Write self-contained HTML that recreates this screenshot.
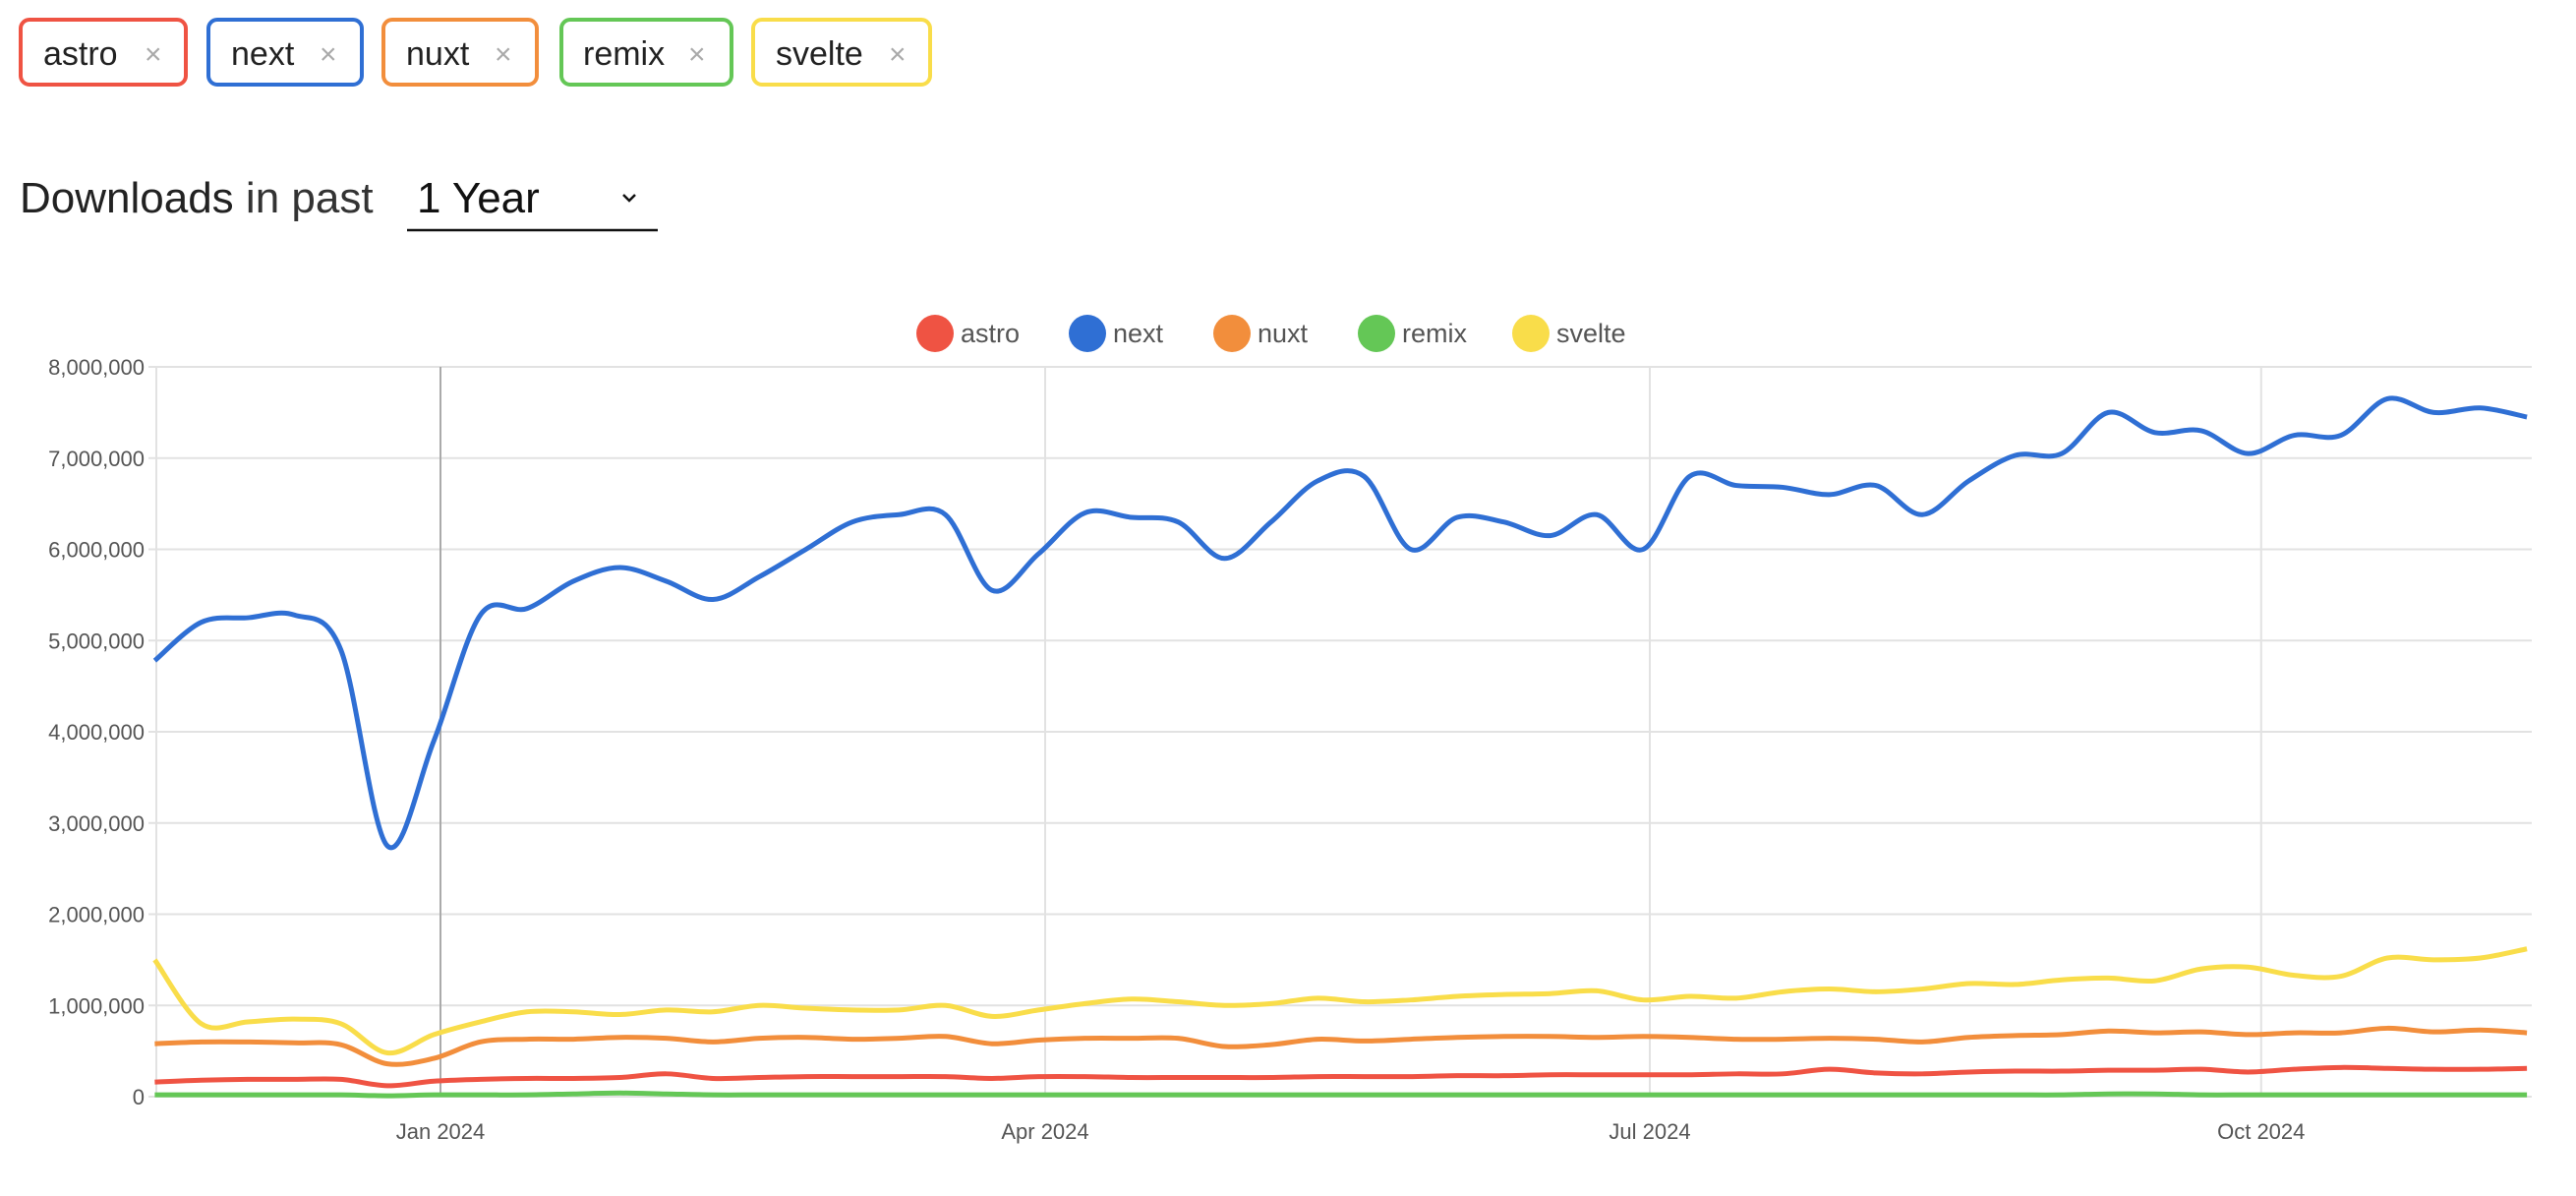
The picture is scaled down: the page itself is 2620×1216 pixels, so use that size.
<!DOCTYPE html>
<html><head><meta charset="utf-8"><style>
body{margin:0;background:#fff;font-family:"Liberation Sans",Arial,sans-serif;}
svg{display:block}
</style></head><body>
<svg id="page" width="2620" height="1216" viewBox="0 0 2620 1216">
<g font-size="34" fill="#222">
 <g><rect x="21" y="20" width="168" height="66" rx="9" fill="none" stroke="#ef5343" stroke-width="4"/><text x="44" y="66">astro</text><text x="147" y="65" fill="#aaa" font-size="30">×</text></g>
 <g><rect x="212" y="20" width="156" height="66" rx="9" fill="none" stroke="#2f6fd4" stroke-width="4"/><text x="235" y="66">next</text><text x="325" y="65" fill="#aaa" font-size="30">×</text></g>
 <g><rect x="390" y="20" width="156" height="66" rx="9" fill="none" stroke="#f28e3c" stroke-width="4"/><text x="413" y="66">nuxt</text><text x="503" y="65" fill="#aaa" font-size="30">×</text></g>
 <g><rect x="571" y="20" width="173" height="66" rx="9" fill="none" stroke="#64c756" stroke-width="4"/><text x="593" y="66">remix</text><text x="700" y="65" fill="#aaa" font-size="30">×</text></g>
 <g><rect x="766" y="20" width="180" height="66" rx="9" fill="none" stroke="#f9dd4a" stroke-width="4"/><text x="789" y="66">svelte</text><text x="904" y="65" fill="#aaa" font-size="30">×</text></g>
</g>
<text x="20" y="216" font-size="44" fill="#222"><tspan font-weight="normal">Downloads</tspan><tspan fill="#333"> in past</tspan></text>
<g>
 <text x="424" y="216" font-size="44" fill="#111">1 Year</text>
 <path d="M634 198 l6 6 l6 -6" fill="none" stroke="#111" stroke-width="2.5"/>
 <line x1="414" y1="234" x2="669" y2="234" stroke="#111" stroke-width="2.5"/>
</g>
<g id="legend" font-size="27" fill="#555"></g>
<g id="grid"></g>
<g id="series"></g>
</svg>
<script>
const ticksY = [0,1000000,2000000,3000000,4000000,5000000,6000000,7000000,8000000];
const tickLabelsY = ["0","1,000,000","2,000,000","3,000,000","4,000,000","5,000,000","6,000,000","7,000,000","8,000,000"];
const xTickDates = ["2024-01-01","2024-04-01","2024-07-01","2024-10-01"];
const xTickLabels = ["Jan 2024","Apr 2024","Jul 2024","Oct 2024"];
const startDate = "2023-11-19";
const seriesNames = ["astro","next","nuxt","remix","svelte"];
const next = [4.78,5.2,5.25,5.28,4.9,2.75,3.9,5.28,5.35,5.65,5.8,5.65,5.45,5.7,6.0,6.3,6.38,6.38,5.55,5.95,6.4,6.35,6.3,5.9,6.3,6.75,6.8,6.0,6.35,6.3,6.15,6.38,6.0,6.8,6.7,6.68,6.6,6.7,6.38,6.75,7.03,7.05,7.5,7.28,7.3,7.05,7.25,7.25,7.65,7.5,7.55,7.45];
const svelte = [1.5,0.8,0.82,0.85,0.8,0.48,0.68,0.82,0.93,0.93,0.9,0.95,0.93,1.0,0.97,0.95,0.95,1.0,0.88,0.95,1.02,1.07,1.04,1.0,1.02,1.08,1.04,1.06,1.1,1.12,1.13,1.16,1.06,1.1,1.08,1.15,1.18,1.15,1.18,1.24,1.23,1.28,1.3,1.27,1.4,1.42,1.33,1.32,1.52,1.5,1.52,1.62];
const nuxt = [0.58,0.6,0.6,0.59,0.57,0.36,0.42,0.6,0.63,0.63,0.65,0.64,0.6,0.64,0.65,0.63,0.64,0.66,0.58,0.62,0.64,0.64,0.64,0.55,0.57,0.63,0.61,0.63,0.65,0.66,0.66,0.65,0.66,0.65,0.63,0.63,0.64,0.63,0.6,0.65,0.67,0.68,0.72,0.7,0.71,0.68,0.7,0.7,0.75,0.71,0.73,0.7];
const astro = [0.16,0.18,0.19,0.19,0.19,0.12,0.17,0.19,0.2,0.2,0.21,0.25,0.2,0.21,0.22,0.22,0.22,0.22,0.2,0.22,0.22,0.21,0.21,0.21,0.21,0.22,0.22,0.22,0.23,0.23,0.24,0.24,0.24,0.24,0.25,0.25,0.3,0.26,0.25,0.27,0.28,0.28,0.29,0.29,0.3,0.27,0.3,0.32,0.31,0.3,0.3,0.31];
const remix = [0.02,0.02,0.02,0.02,0.02,0.01,0.02,0.02,0.02,0.03,0.04,0.03,0.02,0.02,0.02,0.02,0.02,0.02,0.02,0.02,0.02,0.02,0.02,0.02,0.02,0.02,0.02,0.02,0.02,0.02,0.02,0.02,0.02,0.02,0.02,0.02,0.02,0.02,0.02,0.02,0.02,0.02,0.03,0.03,0.02,0.02,0.02,0.02,0.02,0.02,0.02,0.02];
const colors = {astro:"#ef5343",next:"#2f6fd4",nuxt:"#f28e3c",remix:"#64c756",svelte:"#f9dd4a"};
const dataMap = {astro,next,nuxt,remix,svelte};
const NS="http://www.w3.org/2000/svg";
const L=159,R=2575,T=373,B=1115;
const day=86400000, t0=Date.parse(startDate);
const tJan=Date.parse("2024-01-01"), tApr=Date.parse("2024-04-01");
const pxPerMs=(1063-448)/(tApr-tJan);
const xDate=t=>448+(t-tJan)*pxPerMs;
const xIdx=i=>xDate(t0+i*7*day);
const y=v=>B-(v/8000000)*(B-T);
function mk(tag,attrs,parent){const e=document.createElementNS(NS,tag);for(const k in attrs)e.setAttribute(k,attrs[k]);parent.appendChild(e);return e;}
const grid=document.getElementById('grid');
ticksY.forEach((v,i)=>{
 const l=mk('line',{x1:L-8,x2:R,y1:y(v),y2:y(v),stroke:'#e2e2e2','stroke-width':2},grid);
 
 
 const t=mk('text',{x:L-12,y:y(v)+8,'text-anchor':'end','font-size':22,fill:'#555'},grid);
 t.textContent=tickLabelsY[i];
 
 
});
const ax=mk('line',{x1:L,x2:L,y1:T,y2:B,stroke:'#e2e2e2','stroke-width':2},grid);


xTickDates.forEach((d,i)=>{
 const x=xDate(Date.parse(d));
 const l=mk('line',{x1:x,x2:x,y1:T,y2:B,stroke:i==0?'#aaa':'#e2e2e2','stroke-width':2},grid);
 
 
 const t=mk('text',{x:x,y:1158,'text-anchor':'middle','font-size':22,fill:'#555'},grid);
 t.textContent=xTickLabels[i];
 
 
});
function pathFor(arr){
 const p=arr.map((v,i)=>[xIdx(i),y(v*1e6)]);
 let d='M'+p[0][0]+' '+p[0][1];
 for(let i=0;i<p.length-1;i++){
  const p0=p[i-1]||p[i],p1=p[i],p2=p[i+1],p3=p[i+2]||p2;
  const c1=[p1[0]+(p2[0]-p0[0])/6,p1[1]+(p2[1]-p0[1])/6];
  const c2=[p2[0]-(p3[0]-p1[0])/6,p2[1]-(p3[1]-p1[1])/6];
  d+=` C${c1[0]} ${c1[1]} ${c2[0]} ${c2[1]} ${p2[0]} ${p2[1]}`;
 }
 return d;
}
const ser=document.getElementById('series');
["remix","astro","nuxt","svelte","next"].forEach(n=>{
 const pth=mk('path',{d:pathFor(dataMap[n]),fill:'none',stroke:colors[n],'stroke-width':5,'stroke-linejoin':'round'},ser);
 
 
});
const leg=document.getElementById('legend');
const legX=[951,1106,1253,1400,1557];
seriesNames.forEach((n,i)=>{
 const g=mk('g',{},leg);
 
 
 mk('circle',{cx:legX[i],cy:339,r:19,fill:colors[n]},g);
 const t=mk('text',{x:legX[i]+26,y:348},g);t.textContent=n;
});
</script>
</body></html>
